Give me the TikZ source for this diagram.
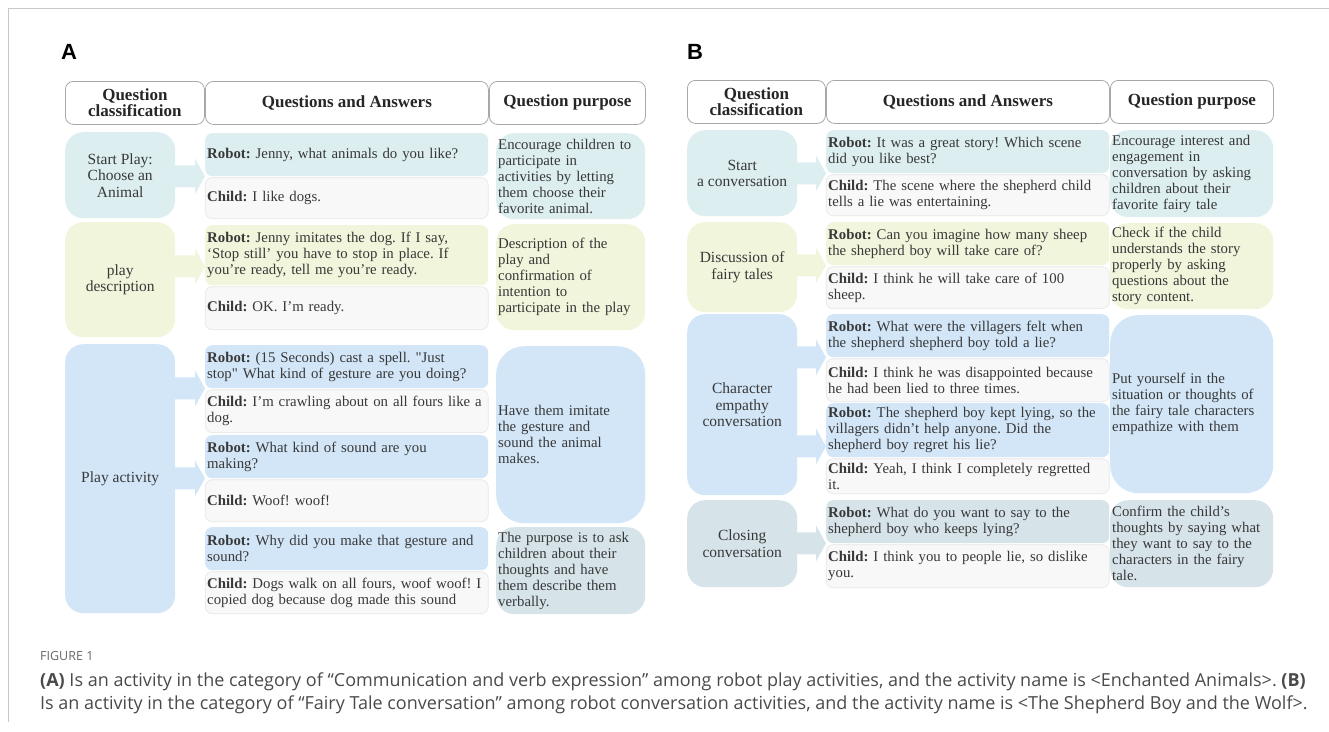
\documentclass[tikz,border=0pt]{standalone}
\usepackage{fontspec}
\setmainfont{Liberation Serif}
\newfontfamily\capfont{Open Sans}
\newfontfamily\panelfont{Liberation Sans}
\usetikzlibrary{calc,positioning}
\frenchspacing

\definecolor{tealbox}{HTML}{DCEEF0}
\definecolor{yelbox}{HTML}{F1F5DB}
\definecolor{bluebox}{HTML}{D3E6F8}
\definecolor{slatebox}{HTML}{D6E4EA}
\definecolor{childbox}{HTML}{F8F8F8}
\definecolor{childline}{HTML}{E6E6E6}
\definecolor{hdrline}{HTML}{A8A8A8}
\definecolor{bodytext}{HTML}{383838}
\definecolor{capgray}{HTML}{4A4A4A}

% wide arrow from a category box to the point #2
\newcommand\blockarrow[3]{%
  \fill[#3] (#1.east |- #2) ++(-2,-11) -- ($(#2)+(-10,-11)$) -- ++(0,-7)
    -- (#2) -- ++(-10,18) -- ++(0,-7) -- ($(#1.east |- #2)+(-2,11)$) -- cycle;}

\begin{document}
\begin{tikzpicture}[x=1pt,y=-1pt,node distance=1pt,
  hdr/.style={draw=hdrline,line width=0.8pt,fill=white,rounded corners=8pt,
    anchor=north west,align=center,inner sep=0pt,minimum height=43pt,
    font=\fontsize{17}{16}\selectfont\bfseries,text=black!85},
  kat/.style={rounded corners=18pt,anchor=north west,align=center,
    minimum width=110pt,inner sep=0pt,text=bodytext,
    font=\fontsize{15.5}{16.5}\selectfont},
  qa/.style={rounded corners=7pt,anchor=north west,align=left,
    minimum width=283pt,text width=279pt,inner xsep=2pt,inner ysep=1pt,
    text=bodytext,font=\fontsize{14.8}{16}\selectfont},
  kid/.style={qa,fill=childbox,draw=childline,line width=0.6pt},
  purpA/.style={rounded corners=18pt,anchor=north west,align=left,
    minimum width=149pt,text width=145pt,inner xsep=2pt,inner ysep=1pt,
    text=bodytext,font=\fontsize{14.8}{16}\selectfont},
  purpB/.style={purpA,minimum width=163pt,text width=159pt}]

\useasboundingbox (0,0) rectangle (1329,731);
\draw[black!22,line width=0.8pt] (8,722) -- (8,8) -- (1329,8);

% ---------------- A ----------------
\node (labA) [anchor=base west,inner sep=0pt,
  font=\panelfont\bfseries\fontsize{22}{22}\selectfont] at (61,59) {A};

\node (HdA1) [hdr,minimum width=139pt] at (65,81) {Question\\classification};
\node (HdA2) [hdr,minimum width=283pt] at (205,81) {Questions and Answers};
\node (HdA3) [hdr,minimum width=156pt] at (489,81) {Question purpose};

\node (KatA1) [kat,fill=tealbox,minimum height=86pt] at (65,132) {Start Play:\\Choose an\\Animal};
\node (RobA1) [qa,fill=tealbox,minimum height=43pt] at (205,133)
  {\textbf{Robot:} Jenny, what animals do you like?};
\node (ChA1) [kid,minimum height=41pt,below=of RobA1] {\textbf{Child:} I like dogs.};
\node (PurA1) [purpA,fill=tealbox,minimum height=86pt] at (496,133)
  {Encourage children to\\participate in\\activities by letting\\them choose their\\favorite animal.};

\node (KatA2) [kat,fill=yelbox,minimum height=115pt] at (65,222) {play\\description};
\node (RobA2) [qa,fill=yelbox,minimum height=60pt] at (205,225)
  {\textbf{Robot:} Jenny imitates the dog. If I say,\\‘Stop still’ you have to stop in place. If\\you're ready, tell me you're ready.};
\node (ChA2) [kid,minimum height=43pt,below=of RobA2] {\textbf{Child:} OK. I'm ready.};
\node (PurA2) [purpA,fill=yelbox,minimum height=106pt] at (496,224)
  {Description of the\\play and\\confirmation of\\intention to\\participate in the play};

\node (KatA3) [kat,fill=bluebox,minimum height=269pt] at (65,344) {Play activity};
\node (RobA31) [qa,fill=bluebox,minimum height=43pt] at (205,345)
  {\textbf{Robot:} (15 Seconds) cast a spell. \textquotedbl Just\\stop\textquotedbl{} What kind of gesture are you doing?};
\node (ChA31) [kid,minimum height=43pt,below=of RobA31]
  {\textbf{Child:} I'm crawling about on all fours like a\\dog.};
\node (RobA32) [qa,fill=bluebox,minimum height=43pt] at (205,435)
  {\textbf{Robot:} What kind of sound are you\\making?};
\node (ChA32) [kid,minimum height=42pt,below=of RobA32] {\textbf{Child:} Woof! woof!};
\node (RobA33) [qa,fill=bluebox,minimum height=43pt] at (205,527)
  {\textbf{Robot:} Why did you make that gesture and\\sound?};
\node (ChA33) [kid,minimum height=42pt,below=of RobA33]
  {\textbf{Child:} Dogs walk on all fours, woof woof! I\\copied dog because dog made this sound};
\node (PurA3a) [purpA,fill=bluebox,rounded corners=28pt,minimum height=177pt] at (496,346)
  {Have them imitate\\the gesture and\\sound the animal\\makes.};
\node (PurA3b) [purpA,fill=slatebox,minimum height=87pt] at (496,527)
  {The purpose is to ask\\children about their\\thoughts and have\\them describe them\\verbally.};

\coordinate (tA2) at ($(RobA2.south west)+(0,-19)$);
\blockarrow{KatA1}{RobA1.south west}{tealbox}
\blockarrow{KatA2}{tA2}{yelbox}
\blockarrow{KatA3}{RobA31.south west}{bluebox}
\blockarrow{KatA3}{RobA32.south west}{bluebox}

% ---------------- B ----------------
\node (labB) [anchor=base west,inner sep=0pt,
  font=\panelfont\bfseries\fontsize{22}{22}\selectfont] at (687,59) {B};

\node (HdB1) [hdr,minimum width=138pt] at (687,80) {Question\\classification};
\node (HdB2) [hdr,minimum width=283pt] at (826,80) {Questions and Answers};
\node (HdB3) [hdr,minimum width=163pt] at (1110,80) {Question purpose};

\node (KatB1) [kat,fill=tealbox,minimum height=86pt] at (687,130) {Start\\a conversation};
\node (RobB1) [qa,fill=tealbox,minimum height=43pt] at (826,130)
  {\textbf{Robot:} It was a great story! Which scene\\did you like best?};
\node (ChB1) [kid,minimum height=41pt,below=of RobB1]
  {\textbf{Child:} The scene where the shepherd child\\tells a lie was entertaining.};
\node (PurB1) [purpB,fill=tealbox,minimum height=87pt] at (1110,130)
  {Encourage interest and\\engagement in\\conversation by asking\\children about their\\favorite fairy tale};

\node (KatB2) [kat,fill=yelbox,minimum height=90pt] at (687,222) {Discussion of\\fairy tales};
\node (RobB2) [qa,fill=yelbox,minimum height=43pt] at (826,222)
  {\textbf{Robot:} Can you imagine how many sheep\\the shepherd boy will take care of?};
\node (ChB2) [kid,minimum height=42pt,below=of RobB2]
  {\textbf{Child:} I think he will take care of 100\\sheep.};
\node (PurB2) [purpB,fill=yelbox,minimum height=86pt] at (1110,223)
  {Check if the child\\understands the story\\properly by asking\\questions about the\\story content.};

\node (KatB3) [kat,fill=bluebox,minimum height=181pt] at (687,314) {Character\\empathy\\conversation};
\node (RobB31) [qa,fill=bluebox,minimum height=43pt] at (826,314)
  {\textbf{Robot:} What were the villagers felt when\\the shepherd shepherd boy told a lie?};
\node (ChB31) [kid,minimum height=43pt,below=of RobB31]
  {\textbf{Child:} I think he was disappointed because\\he had been lied to three times.};
\node (RobB32) [qa,fill=bluebox,minimum height=54pt] at (826,403)
  {\textbf{Robot:} The shepherd boy kept lying, so the\\villagers didn't help anyone. Did the\\shepherd boy regret his lie?};
\node (ChB32) [kid,minimum height=35pt,below=of RobB32]
  {\textbf{Child:} Yeah, I think I completely regretted\\it.};
\node (PurB3) [purpB,fill=bluebox,rounded corners=28pt,minimum height=178pt] at (1110,315)
  {Put yourself in the\\situation or thoughts of\\the fairy tale characters\\empathize with them};

\node (KatB4) [kat,fill=slatebox,minimum height=87pt] at (687,500) {Closing\\conversation};
\node (RobB4) [qa,fill=slatebox,minimum height=43pt] at (826,500)
  {\textbf{Robot:} What do you want to say to the\\shepherd boy who keeps lying?};
\node (ChB4) [kid,minimum height=43pt,below=of RobB4]
  {\textbf{Child:} I think you to people lie, so dislike\\you.};
\node (PurB4) [purpB,fill=slatebox,minimum height=87pt] at (1110,500)
  {Confirm the child's\\thoughts by saying what\\they want to say to the\\characters in the fairy\\tale.};

\coordinate (tB32) at ($(RobB32.south west)+(0,-11)$);
\blockarrow{KatB1}{RobB1.south west}{tealbox}
\blockarrow{KatB2}{RobB2.south west}{yelbox}
\blockarrow{KatB3}{RobB31.south west}{bluebox}
\blockarrow{KatB3}{tB32}{bluebox}
\blockarrow{KatB4}{RobB4.south west}{slatebox}

% caption
\node (FigNo) [anchor=base west,inner sep=0pt,text=black!60,
  font=\capfont\fontsize{12.5}{14}\selectfont] at (40,660) {FIGURE 1};
\node (Caption) [anchor=base west,align=left,inner sep=0pt,text=capgray,
  font=\capfont\fontsize{18}{23}\selectfont] at (40,709)
  {\textbf{(A)} Is an activity in the category of “Communication and verb expression” among robot play activities, and the activity name is <Enchanted Animals>. \textbf{(B)}\\
   Is an activity in the category of “Fairy Tale conversation” among robot conversation activities, and the activity name is <The Shepherd Boy and the Wolf>.};
\end{tikzpicture}
\end{document}
